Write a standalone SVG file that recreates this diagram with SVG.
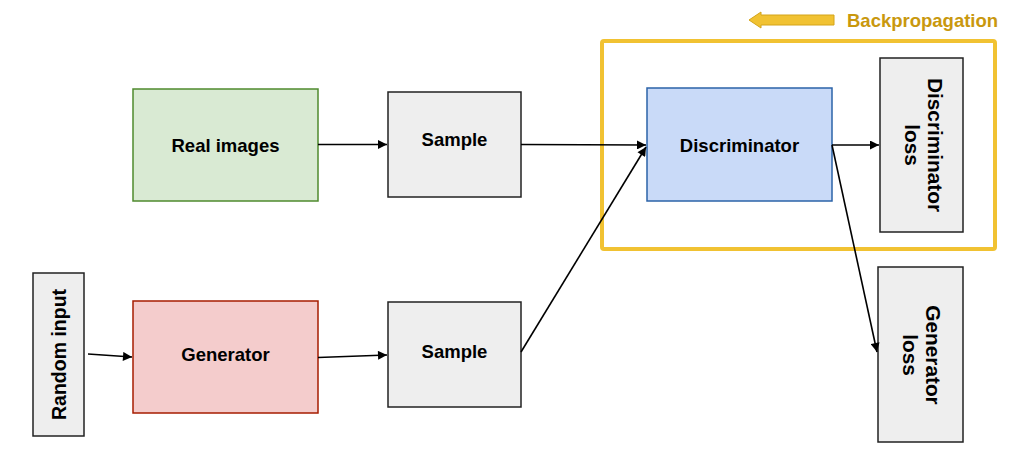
<svg xmlns="http://www.w3.org/2000/svg" width="1024" height="454" viewBox="0 0 1024 454">
<defs>
<style>
.t{font-family:"Liberation Sans",Arial,sans-serif;font-weight:bold;font-size:18.5px;fill:#000;text-anchor:middle;dominant-baseline:central}
.big{font-size:20.8px}
.gray{fill:#eeeeee;stroke:#222;stroke-width:1.5}
.edge{stroke:#000;stroke-width:1.6;fill:none;marker-end:url(#ah)}
</style>
<marker id="ah" viewBox="0 0 10 10" refX="10" refY="5" markerWidth="10" markerHeight="9" markerUnits="userSpaceOnUse" orient="auto">
<path d="M0,0 L10,5 L0,10 z" fill="#000"/>
</marker>
</defs>
<rect width="1024" height="454" fill="#fff"/>
<g id="backprop">
<rect x="602" y="41" width="393" height="208" fill="none" stroke="#f1c232" stroke-width="4" rx="2"/>
<path d="M749,20 L761,12 L761,15 L834,15 L834,25 L761,25 L761,28 z" fill="#f1c232" stroke="#d4a419" stroke-width="1"/>
<text x="847" y="20" style="font-family:'Liberation Sans',Arial,sans-serif;font-weight:bold;font-size:18.5px;fill:#c9980e;dominant-baseline:central">Backpropagation</text>
</g>
<g id="random-input">
<rect class="gray" x="33" y="273" width="51" height="163"/>
<text class="t" style="font-size:19.5px" transform="translate(58.5,354.5) rotate(-90)" x="0" y="0">Random input</text>
</g>
<g id="real-images">
<rect x="133" y="89" width="185" height="112" fill="#d9ead3" stroke="#4f8a2e" stroke-width="1.5"/>
<text class="t" x="225.5" y="145">Real images</text>
</g>
<g id="generator">
<rect x="133" y="301" width="185" height="112" fill="#f4cccc" stroke="#a61c00" stroke-width="1.5"/>
<text class="t" x="225.5" y="354">Generator</text>
</g>
<g id="sample-top">
<rect class="gray" x="388" y="92" width="133" height="105"/>
<text class="t" x="454.5" y="139">Sample</text>
</g>
<g id="sample-bottom">
<rect class="gray" x="388" y="302" width="133" height="105"/>
<text class="t" x="454.5" y="351">Sample</text>
</g>
<g id="discriminator">
<rect x="647" y="88" width="185" height="113" fill="#c9daf8" stroke="#2b63a8" stroke-width="1.5"/>
<text class="t" x="739.5" y="145">Discriminator</text>
</g>
<g id="discriminator-loss">
<rect class="gray" x="880" y="58" width="83" height="174"/>
<text class="t big" transform="translate(923.5,145) rotate(90)"><tspan x="0" y="-12">Discriminator</tspan><tspan x="0" y="11">loss</tspan></text>
</g>
<g id="generator-loss">
<rect class="gray" x="878" y="267" width="85" height="175"/>
<text class="t big" transform="translate(921.5,355) rotate(90)"><tspan x="0" y="-12">Generator</tspan><tspan x="0" y="11">loss</tspan></text>
</g>
<g id="connectors">
<line class="edge" x1="318" y1="144.5" x2="387" y2="144.5"/>
<line class="edge" x1="521" y1="144.5" x2="646" y2="145"/>
<line class="edge" x1="88" y1="354" x2="132" y2="357"/>
<line class="edge" x1="318" y1="357.5" x2="387" y2="355"/>
<line class="edge" x1="521" y1="352" x2="646" y2="147"/>
<line class="edge" x1="832" y1="145" x2="879" y2="145"/>
<line class="edge" x1="832" y1="145" x2="877" y2="352"/>
</g>
</svg>
